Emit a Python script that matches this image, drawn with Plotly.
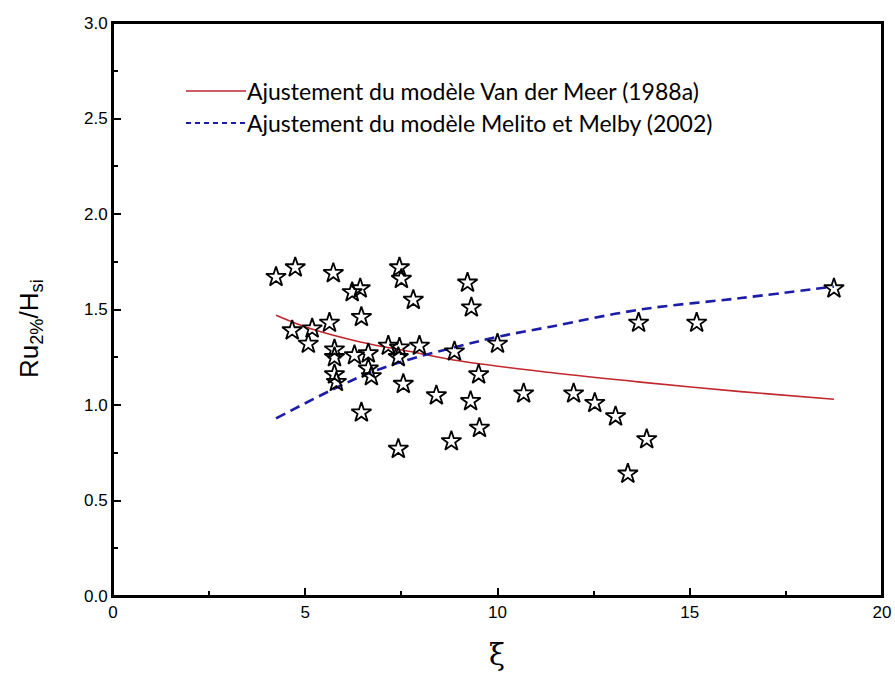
import plotly.graph_objects as go

# Measured run-up data (xi, Ru2%/Hsi)
xi_obs = [4.24, 4.74, 5.73, 7.45, 7.50, 6.22, 6.43, 7.81, 5.63, 6.46,
          4.66, 5.18, 5.08, 5.76, 5.76, 6.28, 6.64, 7.16, 7.45, 7.42,
          7.97, 6.64, 6.72, 5.76, 5.81, 7.55, 8.41, 6.46, 7.42, 9.22,
          9.32, 8.88, 10.00, 9.51, 9.30, 10.68, 11.98, 12.53, 13.07, 9.53,
          8.80, 13.67, 15.18, 18.75, 13.88, 13.39]
ru_obs = [1.67, 1.72, 1.69, 1.72, 1.66, 1.59, 1.61, 1.55, 1.43, 1.46,
          1.39, 1.40, 1.32, 1.29, 1.25, 1.26, 1.27, 1.31, 1.30, 1.25,
          1.31, 1.19, 1.15, 1.16, 1.12, 1.11, 1.05, 0.96, 0.77, 1.64,
          1.51, 1.28, 1.32, 1.16, 1.02, 1.06, 1.06, 1.01, 0.94, 0.88,
          0.81, 1.43, 1.43, 1.61, 0.82, 0.64]

# Fitted curve: Van der Meer (1988a)
xi_vdm = [4.24, 5.13, 6.43, 7.73, 9.04, 11.38, 13.72, 16.33, 18.75]
ru_vdm = [1.47, 1.40, 1.33, 1.28, 1.23, 1.17, 1.12, 1.07, 1.03]

# Fitted curve: Melito et Melby (2002)
xi_mm = [4.24, 5.70, 6.69, 7.73, 9.04, 10.08, 11.38, 13.72, 16.33, 18.75]
ru_mm = [0.93, 1.08, 1.17, 1.24, 1.31, 1.36, 1.41, 1.50, 1.56, 1.62]

legend_labels = ["Ajustement du modèle Van der Meer (1988a)",
                 "Ajustement du modèle Melito et Melby (2002)"]

red = "#c1272d"
blue = "#1c1ca8"

fig = go.Figure()
fig.add_trace(go.Scatter(x=xi_vdm, y=ru_vdm, mode="lines", line_shape="spline",
                         line=dict(color=red, width=1.6), showlegend=False))
fig.add_trace(go.Scatter(x=xi_mm, y=ru_mm, mode="lines", line_shape="spline",
                         line=dict(color=blue, width=2.6, dash="10px,6px"),
                         showlegend=False))
fig.add_trace(go.Scatter(x=xi_obs, y=ru_obs, mode="markers",
                         marker=dict(symbol="star-open", size=15, color="black",
                                     line=dict(color="black", width=1.8)),
                         showlegend=False))

# Pixel -> paper helpers for the plotting box
W, L = 769.0, 113.0
H, T = 573.0, 23.0
def px(x):
    return (x - L) / W
def py(y):
    return 1 - (y - T) / H

# Box outline
fig.add_shape(type="rect", xref="paper", yref="paper", x0=0, x1=1, y0=0, y1=1,
              line=dict(color="black", width=2), layer="above")

# Legend drawn inside the plotting area
legend_rows = [(91, dict(color=red, width=1.6)),
               (123, dict(color=blue, width=2.2, dash="5px,4px"))]
for (yrow, ln), label in zip(legend_rows, legend_labels):
    fig.add_shape(type="line", xref="paper", yref="paper",
                  x0=px(186), x1=px(246), y0=py(yrow), y1=py(yrow), line=ln)
    fig.add_annotation(xref="paper", yref="paper", x=px(245), y=py(yrow),
                       text=label, showarrow=False, xanchor="left", yanchor="middle",
                       font=dict(family="Lato", size=23, color="black"))

# Axis titles
fig.add_annotation(xref="paper", yref="paper", x=px(497), y=py(655),
                   text="ξ", showarrow=False, xanchor="center", yanchor="middle",
                   font=dict(family="DejaVu Serif", size=29, color="black"))
fig.add_annotation(xref="paper", yref="paper", x=px(30), y=py(329),
                   text="Ru<sub>2%</sub>/H<sub>si</sub>",
                   textangle=-90,
                   showarrow=False, xanchor="center", yanchor="middle",
                   font=dict(family="Liberation Sans", size=26, color="black"))

axis_common = dict(showline=True, linecolor="black", linewidth=2, mirror=True,
                   ticks="inside", ticklen=8, tickwidth=2, tickcolor="black",
                   showgrid=False, zeroline=False, automargin=False,
                   tickfont=dict(family="Liberation Sans", size=17, color="black"))

fig.update_xaxes(range=[0, 20], dtick=5, tick0=0,
                 minor=dict(ticks="inside", ticklen=5, tickwidth=2, dtick=2.5,
                            tickcolor="black", showgrid=False),
                 **axis_common)
fig.update_yaxes(range=[0, 3.0], dtick=0.5, tick0=0, tickformat=".1f",
                 minor=dict(ticks="inside", ticklen=5, tickwidth=2, dtick=0.25,
                            tickcolor="black", showgrid=False),
                 **axis_common)

fig.update_layout(width=895, height=684, autosize=False,
                  margin=dict(l=113, r=13, t=23, b=88, autoexpand=False),
                  plot_bgcolor="white", paper_bgcolor="white")

fig.write_html("out.html")
